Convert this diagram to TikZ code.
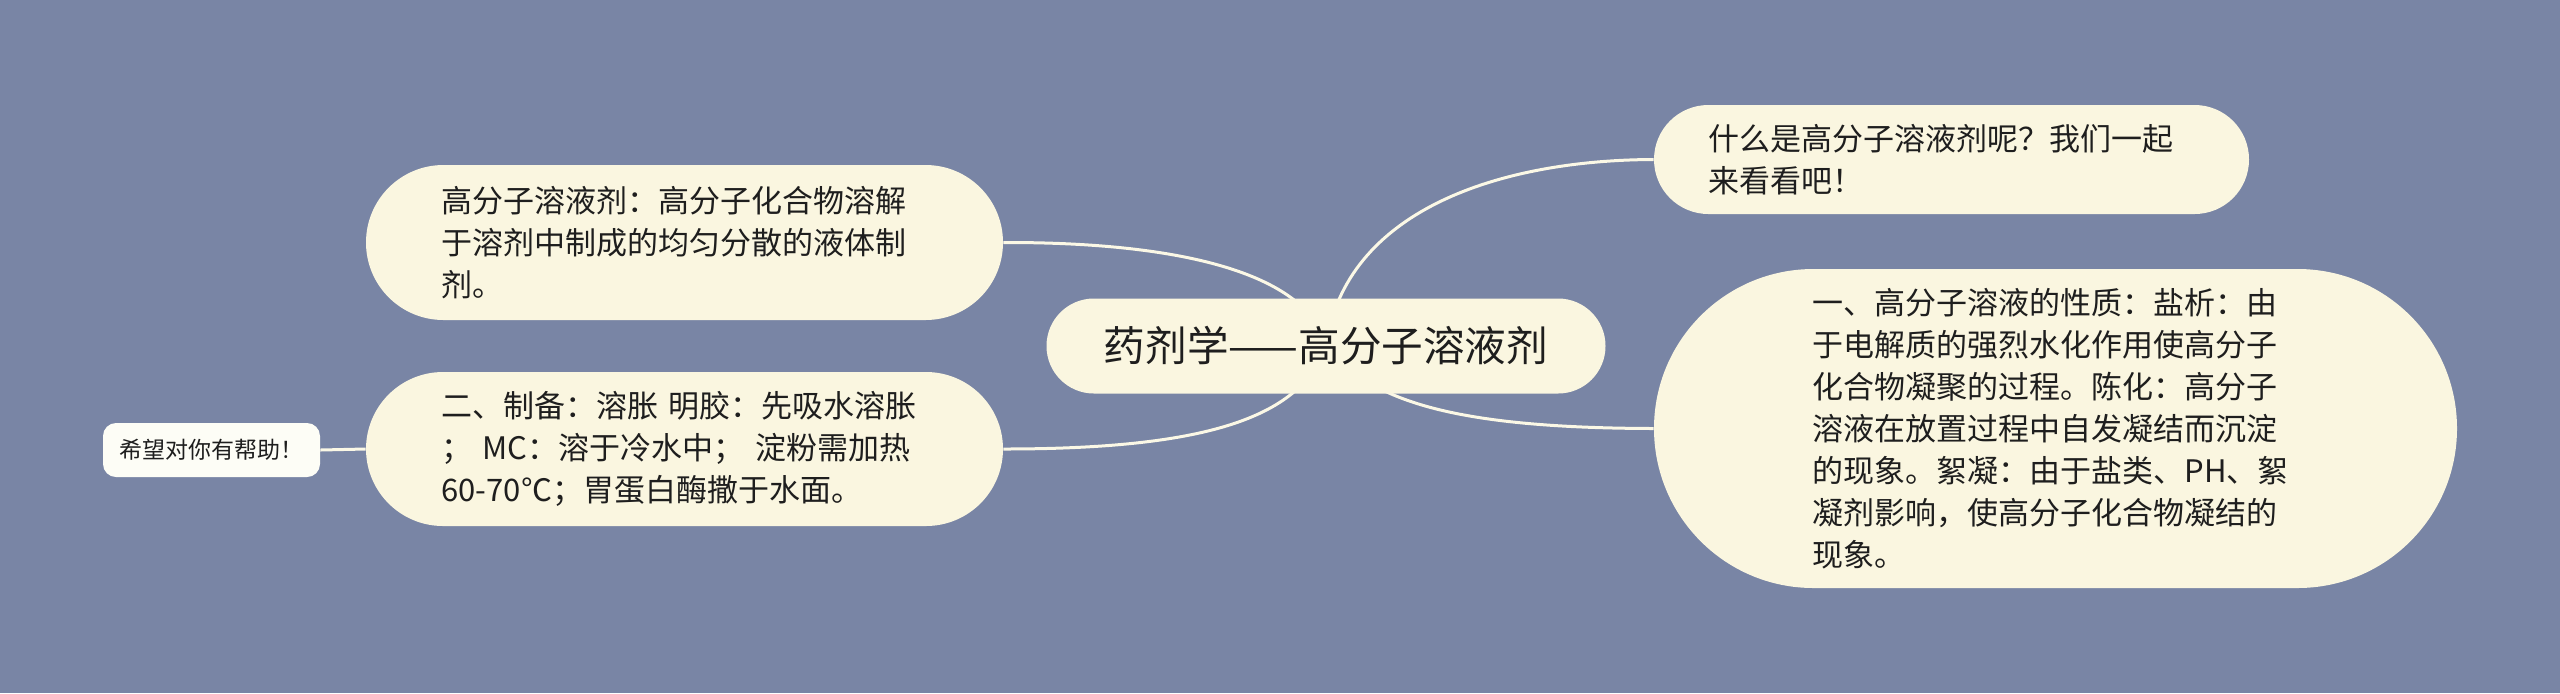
\documentclass[tikz,border=0pt]{standalone}
\usepackage{fontspec}
\setmainfont{Noto Sans CJK SC}
\usetikzlibrary{backgrounds}
\definecolor{pagebg}{HTML}{7985A5}
\definecolor{nodefill}{HTML}{FAF6E0}
\definecolor{notefill}{HTML}{FDFDF6}
\definecolor{linkcol}{HTML}{FBF8E6}
\definecolor{textcol}{HTML}{1E1E1E}

\begin{document}
\begin{tikzpicture}[x=0.5pt, y=-0.5pt,
    pill/.style = {fill=nodefill, text=textcol, align=left, inner sep=0pt,
                   font=\fontsize{15.5}{21}\selectfont},
    topic/.style = {pill, text width=243pt},
    link/.style = {draw=linkcol, line width=1.5pt}]
    
    \useasboundingbox (0,0) rectangle (2560,693);
    
    % root and topics
    \node[pill, minimum width=279.5pt, minimum height=47.5pt, rounded corners=23.7pt,
          font=\fontsize{20.8}{24}\selectfont] (root) at (1326,346) {药剂学——高分子溶液剂};
    \node[topic, minimum width=318.5pt, minimum height=77.5pt, rounded corners=38.7pt] (define) at (684.5,242.5)
        {高分子溶液剂：高分子化合物溶解\\于溶剂中制成的均匀分散的液体制\\剂。};
    \node[topic, minimum width=318.5pt, minimum height=77pt, rounded corners=38.5pt] (prep) at (684.5,449)
        {二、制备：溶胀 明胶：先吸水溶胀\\； MC：溶于冷水中； 淀粉需加热\\60-70℃；胃蛋白酶撒于水面。};
    \node[topic, minimum width=297.5pt, minimum height=54.5pt, rounded corners=27.2pt] (ask) at (1951.5,159.5)
        {什么是高分子溶液剂呢？我们一起\\来看看吧！};
    \node[topic, minimum width=401.5pt, minimum height=159.5pt, rounded corners=79.7pt] (props) at (2055.5,428.5)
        {一、高分子溶液的性质：盐析：由\\于电解质的强烈水化作用使高分子\\化合物凝聚的过程。陈化：高分子\\溶液在放置过程中自发凝结而沉淀\\的现象。絮凝：由于盐类、PH、絮\\凝剂影响，使高分子化合物凝结的\\现象。};
    \node[pill, fill=notefill, minimum width=108.5pt, minimum height=27pt, rounded corners=6.5pt,
          font=\fontsize{11.5}{14}\selectfont] (wish) at (211.5,450) {希望对你有帮助！};
    
    % page and connectors behind the nodes
    \begin{scope}[on background layer]
        \fill[pagebg] (0,0) rectangle (2560,693);
        \draw[link] (root.center) .. controls (1345,210) and (1500,160) .. (ask.west);
        \draw[link] (root.center) .. controls (1370,400) and (1450,428) .. (props.west);
        \draw[link] (root.center) .. controls (1310,280) and (1200,242) .. (define.east);
        \draw[link] (root.center) .. controls (1300,420) and (1200,449) .. (prep.east);
        \draw[link] (wish.east) -- (prep.west);
    \end{scope}
    
\end{tikzpicture}
\end{document}
